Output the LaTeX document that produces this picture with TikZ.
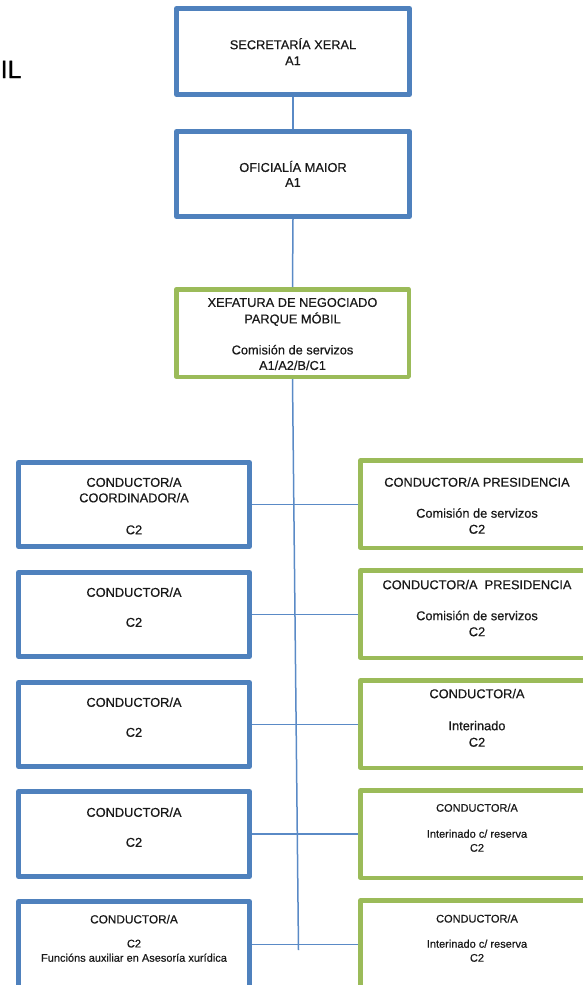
\documentclass[tikz,border=0pt]{standalone}
\usepackage{fontspec}
\setmainfont{Liberation Sans}[FakeBold=0.6]
\definecolor{boxblue}{HTML}{4F81BD}
\definecolor{boxgreen}{HTML}{9BBB59}
\definecolor{linkblue}{HTML}{5A8AC6}
\begin{document}
\begin{tikzpicture}[x=1pt,y=-1pt,
  bluebox/.style={draw=boxblue,line width=5pt,line join=round,inner sep=0pt,minimum width=231pt,minimum height=84pt},
  greenbox/.style={draw=boxgreen,line width=4.5pt,line join=round,inner sep=0pt,minimum width=233pt,minimum height=87.5pt},
  txt/.style={anchor=north,align=center,inner sep=0pt,text=black!90,font=\fontsize{12.8}{15.5}\selectfont},
  smalltxt/.style={txt,font=\fontsize{11}{14}\selectfont},
  link/.style={draw=linkblue,line width=1.5pt}]
\useasboundingbox (0,0) rectangle (583,985);

\node[anchor=base west,inner sep=0pt,font=\fontsize{25}{30}\selectfont] (il) at (0.5,78) {IL};

% boxes
\node[bluebox,minimum width=233pt,minimum height=86pt] (top) at (293,51.5) {};
\node[bluebox,minimum width=233pt,minimum height=85pt] (ofi) at (293,174) {};
\node[greenbox,minimum width=232.5pt] (xef) at (292.5,333) {};

\node[bluebox] (l1) at (134,504.5) {};
\node[bluebox] (l2) at (134,614.5) {};
\node[bluebox] (l3) at (134,724.5) {};
\node[bluebox,minimum height=85pt] (l4) at (134,834) {};
\node[bluebox,minimum height=86pt] (l5) at (134,944.5) {};

\node[greenbox] (r1) at (477,504) {};
\node[greenbox] (r2) at (477,614) {};
\node[greenbox] (r3) at (477,724) {};
\node[greenbox] (r4) at (477,834) {};
\node[greenbox] (r5) at (477,944) {};

% connectors
\coordinate (bot) at (298.5,950);
\draw[link] (top.south) -- (ofi.north);
\draw[link] (ofi.south) -- (xef.north);
\draw[link] (xef.south) -- (bot);
\foreach \i in {1,...,5}{
  \draw[link] (l\i.east) -- (l\i.east -| r\i.west);
}

% texts
\node[txt] (ttop) at (293,37) {\rule{0pt}{12pt}SECRETARÍA XERAL\\[0.5pt]A1};
\node[txt] (tofi) at (293,159.7) {\rule{0pt}{12pt}OFICIALÍA MAIOR\\[-0.5pt]A1};
\node[txt] (txef) at (292.5,294.7) {\rule{0pt}{12pt}XEFATURA DE NEGOCIADO\\[1pt]PARQUE MÓBIL\\[15.5pt]Comisión de servizos\\A1/A2/B/C1};

\node[txt] (tl1) at (134,474.6) {\rule{0pt}{12pt}CONDUCTOR/A\\COORDINADOR/A\\[16.5pt]C2};
\node[txt] (tl2) at (134,584.6) {\rule{0pt}{12pt}CONDUCTOR/A\\[14.5pt]C2};
\node[txt] (tl3) at (134,694.6) {\rule{0pt}{12pt}CONDUCTOR/A\\[14.5pt]C2};
\node[txt] (tl4) at (134,804.6) {\rule{0pt}{12pt}CONDUCTOR/A\\[14.5pt]C2};
\node[smalltxt] (tl5) at (134,912.2) {\rule{0pt}{11pt}{\fontsize{11.8}{14}\selectfont CONDUCTOR/A}\\[10pt]C2\\[0.3pt]Funcións auxiliar en Asesoría xurídica};

\node[txt] (tr1) at (477,474.5) {\rule{0pt}{12pt}CONDUCTOR/A PRESIDENCIA\\[15.5pt]Comisión de servizos\\[0.5pt]C2};
\node[txt] (tr2) at (477,577) {\rule{0pt}{12pt}CONDUCTOR/A\ \ PRESIDENCIA\\[15.5pt]Comisión de servizos\\[0.5pt]C2};
\node[txt] (tr3) at (477,686) {\rule{0pt}{12pt}CONDUCTOR/A\\[16.5pt]Interinado\\[1pt]C2};
\node[smalltxt] (tr4) at (477,800.5) {\rule{0pt}{11pt}CONDUCTOR/A\\[12pt]Interinado c/ reserva\\C2};
\node[smalltxt] (tr5) at (477,911.3) {\rule{0pt}{11pt}CONDUCTOR/A\\[11.2pt]Interinado c/ reserva\\C2};
\end{tikzpicture}
\end{document}
